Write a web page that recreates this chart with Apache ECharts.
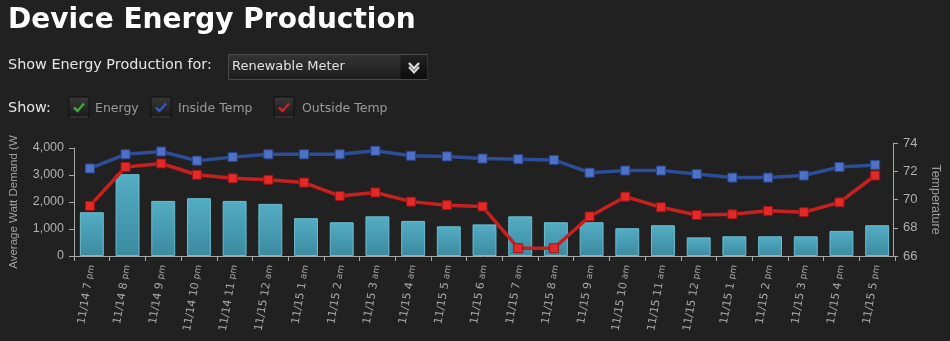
<!DOCTYPE html>
<html>
<head>
<meta charset="utf-8">
<script src="https://cdn.jsdelivr.net/npm/echarts@6/dist/echarts.min.js"></script>
<style>
html,body{margin:0;padding:0;background:#212121;}
#c{width:950px;height:341px;}
</style>
</head>
<body>
<div id="c"></div>
<script>
const categories = ['11/14 7 pm','11/14 8 pm','11/14 9 pm','11/14 10 pm','11/14 11 pm','11/15 12 am','11/15 1 am','11/15 2 am','11/15 3 am','11/15 4 am','11/15 5 am','11/15 6 am','11/15 7 am','11/15 8 am','11/15 9 am','11/15 10 am','11/15 11 am','11/15 12 pm','11/15 1 pm','11/15 2 pm','11/15 3 pm','11/15 4 pm','11/15 5 pm'];
const energy = [1620, 3030, 2040, 2140, 2040, 1930, 1400, 1250, 1470, 1300, 1100, 1170, 1470, 1250, 1250, 1030, 1140, 690, 730, 730, 730, 930, 1140];
const insideTemp = [72.2, 73.2, 73.4, 72.75, 73.0, 73.2, 73.2, 73.2, 73.45, 73.1, 73.05, 72.9, 72.85, 72.8, 71.9, 72.05, 72.05, 71.8, 71.55, 71.55, 71.7, 72.3, 72.45];
const outsideTemp = [69.55, 72.3, 72.55, 71.75, 71.5, 71.4, 71.2, 70.25, 70.5, 69.85, 69.6, 69.5, 66.55, 66.55, 68.8, 70.2, 69.45, 68.9, 68.95, 69.2, 69.1, 69.8, 71.7];
const legendItems = [
  {name: 'Energy', color: '#3aa83a'},
  {name: 'Inside Temp', color: '#3558b0'},
  {name: 'Outside Temp', color: '#d02222'}
];

const chart = echarts.init(document.getElementById('c'));
const axisColor = '#a8a8a8';
const labelFont = 'Liberation Sans';

function checkbox(x, y, color) {
  return {
    type: 'group', x: x, y: y,
    children: [
      {type: 'rect', shape: {x: 0, y: 0, width: 20, height: 20},
       style: {fill: new echarts.graphic.LinearGradient(0,0,0,1,[{offset:0,color:'#383838'},{offset:1,color:'#1a1a1a'}]), stroke: '#111', lineWidth: 1}},
      {type: 'line', shape: {x1: 1, y1: 20, x2: 19, y2: 20}, style: {stroke: '#4a4a4a', lineWidth: 1}},
      {type: 'polyline', shape: {points: [[5,10.5],[8.5,14],[15,6.5]]},
       style: {stroke: color, lineWidth: 2.5, fill: null, lineCap: 'butt', lineJoin: 'miter'}}
    ]
  };
}

const legendX = [69, 151, 274];
const legendTextX = [95, 178, 302];
const graphics = [
  {type: 'text', left: 8, top: 7, style: {text: 'Device Energy Production', fill: '#ffffff', font: 'bold 28px "DejaVu Sans"'}},
  {type: 'text', left: 8, top: 58, style: {text: 'Show Energy Production for:', fill: '#e6e6e6', font: '14.4px "DejaVu Sans"'}},
  {type: 'rect', shape: {x: 228.5, y: 54.5, width: 199, height: 25},
   style: {fill: new echarts.graphic.LinearGradient(0,0,0,1,[{offset:0,color:'#343434'},{offset:1,color:'#1d1d1d'}]), stroke: '#4a4a4a', lineWidth: 1}},
  {type: 'rect', shape: {x: 400.5, y: 55, width: 27, height: 24},
   style: {fill: new echarts.graphic.LinearGradient(0,0,0,1,[{offset:0,color:'#222'},{offset:1,color:'#0c0c0c'}])}},
  {type: 'polyline', shape: {points: [[409,63],[414,68.5],[419,63]]}, style: {stroke: '#d8d8d8', lineWidth: 2.5, fill: null}},
  {type: 'polyline', shape: {points: [[409,67],[414,72.5],[419,67]]}, style: {stroke: '#d8d8d8', lineWidth: 2, fill: null}},
  {type: 'text', left: 232, top: 60, style: {text: 'Renewable Meter', fill: '#e0e0e0', font: '13px "DejaVu Sans"'}},
  {type: 'text', left: 8, top: 101, style: {text: 'Show:', fill: '#e6e6e6', font: '14.4px "DejaVu Sans"'}}
];
legendItems.forEach((it, i) => {
  graphics.push(checkbox(legendX[i], 97, it.color));
  graphics.push({type: 'text', left: legendTextX[i], top: 102, style: {text: it.name, fill: '#9a9a9a', font: '12.5px "DejaVu Sans"'}});
});

const xLabel = {
  rotate: 80, color: '#a8a8a8', margin: 9, interval: 0,
  formatter: function (v) {
    const p = v.split(' ');
    const ap = p.pop();
    return '{a|' + p.join(' ') + '} {b|' + ap + '}';
  },
  rich: {
    a: {fontSize: 11, fontFamily: 'DejaVu Sans', color: '#a8a8a8'},
    b: {fontSize: 9, fontFamily: 'DejaVu Sans', color: '#a8a8a8'}
  }
};

chart.setOption({
  backgroundColor: '#212121',
  animation: false,
  graphic: graphics,
  grid: [
    {left: 72, right: 55, top: 148, bottom: 85},
    {left: 72, right: 55, top: 143, bottom: 85}
  ],
  xAxis: [
    {type: 'category', gridIndex: 0, data: categories,
     axisLine: {lineStyle: {color: axisColor, width: 1}},
     axisTick: {show: true, length: 5, lineStyle: {color: axisColor}},
     axisLabel: xLabel},
    {type: 'category', gridIndex: 1, data: categories, show: false}
  ],
  yAxis: [
    {type: 'value', gridIndex: 0, position: 'left', min: 0, max: 4000, interval: 1000,
     name: 'Average Watt Demand (W', nameLocation: 'middle', nameGap: 54, nameRotate: 90,
     nameTextStyle: {color: '#a0a0a0', fontSize: 11.5, fontFamily: labelFont},
     axisLine: {show: true, lineStyle: {color: axisColor}},
     axisTick: {show: true, length: 5, lineStyle: {color: axisColor}},
     splitLine: {show: false},
     axisLabel: {color: '#b0b0b0', fontSize: 12.5, fontFamily: labelFont, margin: 10,
       formatter: v => v.toLocaleString('en-US')}},
    {type: 'value', gridIndex: 1, position: 'right', min: 66, max: 74, interval: 2,
     name: 'Temperature', nameLocation: 'middle', nameGap: 36, nameRotate: -90,
     nameTextStyle: {color: '#9a9a9a', fontSize: 12.5, fontFamily: labelFont},
     axisLine: {show: true, lineStyle: {color: axisColor}},
     axisTick: {show: true, length: 5, lineStyle: {color: axisColor}},
     splitLine: {show: false},
     axisLabel: {color: '#b0b0b0', fontSize: 13, fontFamily: labelFont, margin: 10}}
  ],
  series: [
    {type: 'bar', name: 'Energy', xAxisIndex: 0, yAxisIndex: 0, data: energy, barWidth: '67%',
     itemStyle: {
       color: new echarts.graphic.LinearGradient(0,0,0,1,[{offset:0,color:'#54adc4'},{offset:1,color:'#3b8aa0'}]),
       borderColor: '#6bbdd1', borderWidth: 1
     }},
    {type: 'line', name: 'Inside Temp', xAxisIndex: 1, yAxisIndex: 1, data: insideTemp,
     symbol: 'rect', symbolSize: 9,
     lineStyle: {color: '#2d4d98', width: 3.5},
     itemStyle: {color: '#4f72c6', borderColor: '#2a4690', borderWidth: 1}},
    {type: 'line', name: 'Outside Temp', xAxisIndex: 1, yAxisIndex: 1, data: outsideTemp,
     symbol: 'rect', symbolSize: 9,
     lineStyle: {color: '#c8201e', width: 3.5},
     itemStyle: {color: '#e42a28', borderColor: '#9c1414', borderWidth: 1}}
  ]
});
</script>
</body>
</html>
